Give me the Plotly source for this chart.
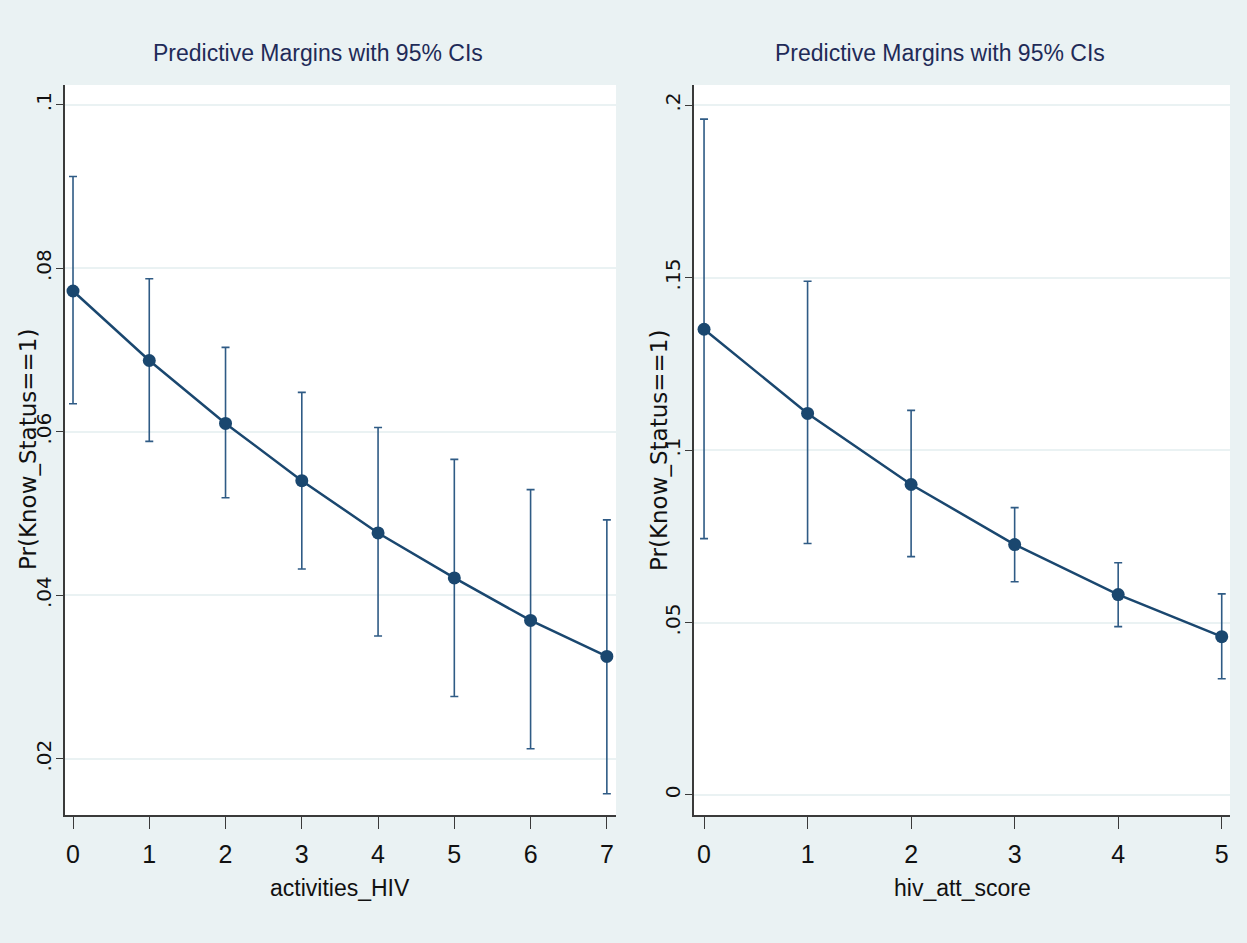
import plotly.graph_objects as go

W, H = 1247, 943

# ---- data ----
act_x = [0, 1, 2, 3, 4, 5, 6, 7]
act_margin = [0.0772, 0.0687, 0.0610, 0.0540, 0.0476, 0.0421, 0.0369, 0.0325]
act_upper = [0.0912, 0.0787, 0.0703, 0.0648, 0.0605, 0.0566, 0.0529, 0.0492]
act_lower = [0.0634, 0.0588, 0.0519, 0.0432, 0.0350, 0.0276, 0.0212, 0.0157]

att_x = [0, 1, 2, 3, 4, 5]
att_margin = [0.1350, 0.1106, 0.0900, 0.0726, 0.0581, 0.0459]
att_upper = [0.1959, 0.1489, 0.1115, 0.0833, 0.0673, 0.0583]
att_lower = [0.0743, 0.0729, 0.0691, 0.0618, 0.0488, 0.0337]

left_yticks = [0.02, 0.04, 0.06, 0.08, 0.10]
left_yticktext = [".02", ".04", ".06", ".08", ".1"]
right_yticks = [0.0, 0.05, 0.10, 0.15, 0.20]
right_yticktext = ["0", ".05", ".1", ".15", ".2"]

title_text = "Predictive Margins with 95% CIs"
ytitle = "Pr(Know_Status==1)"
left_xtitle = "activities_HIV"
right_xtitle = "hiv_att_score"

# ---- styles ----
BG = "#EAF2F3"
LINE = "#1a476f"
ERR = "#2f5b85"
NARROW = "Liberation Sans Narrow, Arial Narrow, Liberation Sans, Arial"
WIDE = "DejaVu Sans, Verdana, sans-serif"
TITLE_COLOR = "#1f2b58"


def px_x(p):
    return p / W


def px_y(p):
    return 1 - p / H


fig = go.Figure()


def add_panel(xs, m, up, lo, xa, ya):
    fig.add_trace(go.Scatter(
        x=xs, y=m, mode="lines+markers", xaxis=xa, yaxis=ya,
        line=dict(color=LINE, width=2.5),
        marker=dict(color=LINE, size=13, symbol="circle"),
        error_y=dict(type="data", symmetric=False,
                     array=[u - v for u, v in zip(up, m)],
                     arrayminus=[v - l for v, l in zip(m, lo)],
                     color=ERR, thickness=1.6, width=4),
        showlegend=False, hoverinfo="x+y",
    ))


add_panel(act_x, act_margin, act_upper, act_lower, "x", "y")
add_panel(att_x, att_margin, att_upper, att_lower, "x2", "y2")

ydom = [px_y(815), px_y(85)]

common_x = dict(
    showgrid=False, zeroline=False, showline=True, linecolor="#3a3a3a",
    linewidth=1.5, ticks="outside", ticklen=12, tickcolor="#3a3a3a",
    tickwidth=1.3, tickfont=dict(family=NARROW, size=25, color="#111111"),
    ticklabelstandoff=4,
)
common_y = dict(
    showgrid=True, gridcolor=BG, gridwidth=2, zeroline=False, showline=True,
    linecolor="#3a3a3a", linewidth=1.5, ticks="outside", ticklen=7,
    tickcolor="#3a3a3a", tickwidth=1.3, tickangle=-90,
    tickfont=dict(family=WIDE, size=20, color="#111111"),
    ticklabelstandoff=-3,
)

fig.update_layout(
    width=W, height=H, autosize=False,
    margin=dict(l=0, r=0, t=0, b=0),
    paper_bgcolor=BG, plot_bgcolor="white",
    xaxis=dict(domain=[px_x(65), px_x(616)], range=[-0.105, 7.12],
               tickvals=act_x, anchor="y", **common_x),
    yaxis=dict(domain=ydom, range=[0.0131, 0.1024], tickvals=left_yticks,
               ticktext=left_yticktext, anchor="x", **common_y),
    xaxis2=dict(domain=[px_x(694), px_x(1230)], range=[-0.097, 5.08],
                tickvals=att_x, anchor="y2", **common_x),
    yaxis2=dict(domain=ydom, range=[-0.0058, 0.2058], tickvals=right_yticks,
                ticktext=right_yticktext, anchor="x2", **common_y),
)

annotations = [
    dict(text=title_text, x=px_x(318), y=px_y(53), font=dict(family=NARROW, size=23, color=TITLE_COLOR)),
    dict(text=title_text, x=px_x(940), y=px_y(53), font=dict(family=NARROW, size=23, color=TITLE_COLOR)),
    dict(text=left_xtitle, x=px_x(340), y=px_y(888), font=dict(family=NARROW, size=23, color="#111111")),
    dict(text=right_xtitle, x=px_x(962), y=px_y(888), font=dict(family=NARROW, size=23, color="#111111")),
    dict(text=ytitle, x=px_x(28), y=px_y(450), textangle=-90, font=dict(family=WIDE, size=23, color="#111111")),
    dict(text=ytitle, x=px_x(659), y=px_y(450), textangle=-90, font=dict(family=WIDE, size=23, color="#111111")),
]
for a in annotations:
    a.update(xref="paper", yref="paper", showarrow=False, xanchor="center", yanchor="middle")
fig.update_layout(annotations=annotations)

fig.write_html("out.html")
